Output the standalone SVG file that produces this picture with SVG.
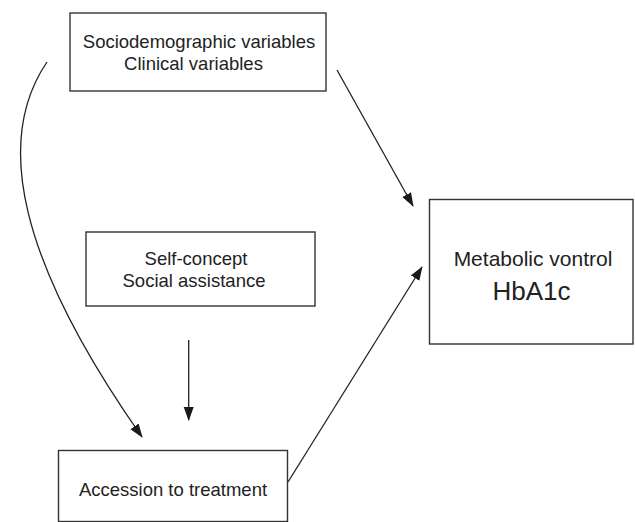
<svg xmlns="http://www.w3.org/2000/svg" width="635" height="522" viewBox="0 0 635 522">
<style>
.box{fill:#fff;stroke:#333;stroke-width:1.4}
.t{font-family:"Liberation Sans",Arial,sans-serif;fill:#222;text-anchor:middle}
.c{fill:none;stroke:#222;stroke-width:1.3}
</style>
<defs>
<marker id="ah" markerWidth="14" markerHeight="12" refX="13" refY="5" orient="auto" markerUnits="userSpaceOnUse" viewBox="0 0 14 10">
<path d="M0,0 L14,5 L0,10 Z" fill="#1a1a1a"/>
</marker>
</defs>
<rect width="635" height="522" fill="#fff"/>
<g id="connectors">
<path class="c" d="M47,62 C-6,140 18,260 142,437" marker-end="url(#ah)"/>
<path class="c" d="M337,70 L413,206" marker-end="url(#ah)"/>
<path class="c" d="M188.7,340 L188.7,420" marker-end="url(#ah)"/>
<path class="c" d="M288,482 L422,267" marker-end="url(#ah)"/>
</g>
<g id="node-socio">
<rect class="box" x="70" y="13" width="256" height="78"/>
<text class="t" x="199" y="47.5" font-size="18.5">Sociodemographic variables</text>
<text class="t" x="193.5" y="70" font-size="18.5">Clinical variables</text>
</g>
<g id="node-self">
<rect class="box" x="86" y="232" width="229" height="74"/>
<text class="t" x="196" y="265" font-size="18.5">Self-concept</text>
<text class="t" x="194" y="287" font-size="18.5">Social assistance</text>
</g>
<g id="node-metabolic">
<rect class="box" x="429.5" y="199.5" width="203.5" height="144.5"/>
<text class="t" x="533" y="266" font-size="21">Metabolic vontrol</text>
<text class="t" x="531.5" y="300" font-size="26">HbA1c</text>
</g>
<g id="node-accession">
<rect class="box" x="58.5" y="450.5" width="229" height="71"/>
<text class="t" x="173" y="496" font-size="18.5">Accession to treatment</text>
</g>
</svg>
